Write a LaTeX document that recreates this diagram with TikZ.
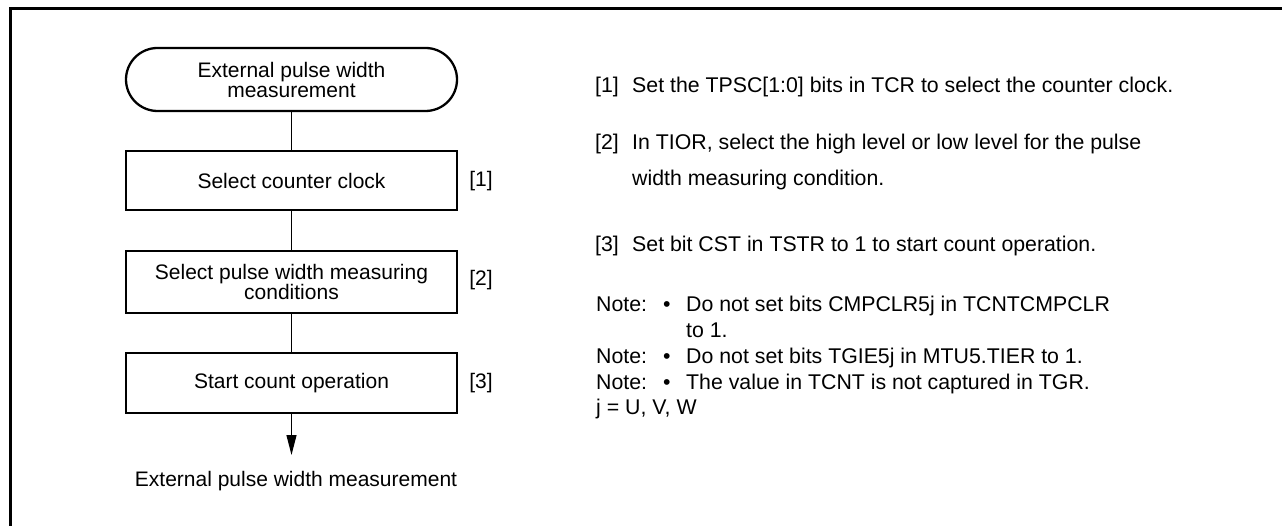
\documentclass[tikz,border=0pt]{standalone}
\usepackage{fontspec}
\setmainfont{Liberation Sans}
\usetikzlibrary{arrows.meta}
\begin{document}
\begin{tikzpicture}[x=1pt,y=-1pt,
  flowfont/.style={font=\fontsize{21}{20}\selectfont},
  flowbox/.style={draw,line width=2.3pt,minimum width=331pt,inner sep=0pt,align=center,flowfont},
  termbox/.style={flowbox,rounded corners=31.5pt,minimum height=63pt},
  conn/.style={line width=1.2pt},
  reflabel/.style={flowfont,inner sep=0pt},
  note/.style={anchor=base west,inner sep=0pt,font=\fontsize{21.3}{24}\selectfont}]
\useasboundingbox (0,0) rectangle (1282,526);
% frame
\draw[line width=3pt] (1282,8.5) -- (10.5,8.5) -- (10.5,526);
% flowchart
\node[termbox] (start) at (291.5,79.5) {External pulse width\\measurement};
\node[flowbox,minimum height=59pt] (b1) at (291.5,180.5) {Select counter clock};
\node[flowbox,minimum height=62pt] (b2) at (291.5,281.7) {Select pulse width measuring\\conditions};
\node[flowbox,minimum height=60pt] (b3) at (291.5,383) {Start count operation};
\coordinate (tip) at (291.5,455);
\node[flowfont,inner sep=0pt] (endtxt) at (296,481) {External pulse width measurement};
\draw[conn] (start) -- (b1);
\draw[conn] (b1) -- (b2);
\draw[conn] (b2) -- (b3);
\draw[conn,-{Triangle[length=20pt,width=10pt]}] (b3) -- (tip);
\node[reflabel] (l1) at (481,181) {[1]};
\node[reflabel] (l2) at (481,280) {[2]};
\node[reflabel] (l3) at (481,383) {[3]};
% descriptions
\node[note] (d1n) at (595,93) {[1]};
\node[note] (d1) at (632,93) {Set the TPSC[1:0] bits in TCR to select the counter clock.};
\node[note] (d2n) at (595,150) {[2]};
\node[note] (d2a) at (632,150) {In TIOR, select the high level or low level for the pulse};
\node[note] (d2b) at (632,185.5) {width measuring condition.};
\node[note] (d3n) at (595,252) {[3]};
\node[note] (d3) at (632,252) {Set bit CST in TSTR to 1 to start count operation.};
\node[note] (n1) at (596,312) {Note:};
\node[note] (n1b) at (663,312) {•};
\node[note] (n1t) at (686,312) {Do not set bits CMPCLR5j in TCNTCMPCLR};
\node[note] (n1u) at (686,338) {to 1.};
\node[note] (n2) at (596,363.5) {Note:};
\node[note] (n2b) at (663,363.5) {•};
\node[note] (n2t) at (686,363.5) {Do not set bits TGIE5j in MTU5.TIER to 1.};
\node[note] (n3) at (596,389.5) {Note:};
\node[note] (n3b) at (663,389.5) {•};
\node[note] (n3t) at (686,389.5) {The value in TCNT is not captured in TGR.};
\node[note] (jl) at (596,414.5) {j = U, V, W};
\end{tikzpicture}
\end{document}
